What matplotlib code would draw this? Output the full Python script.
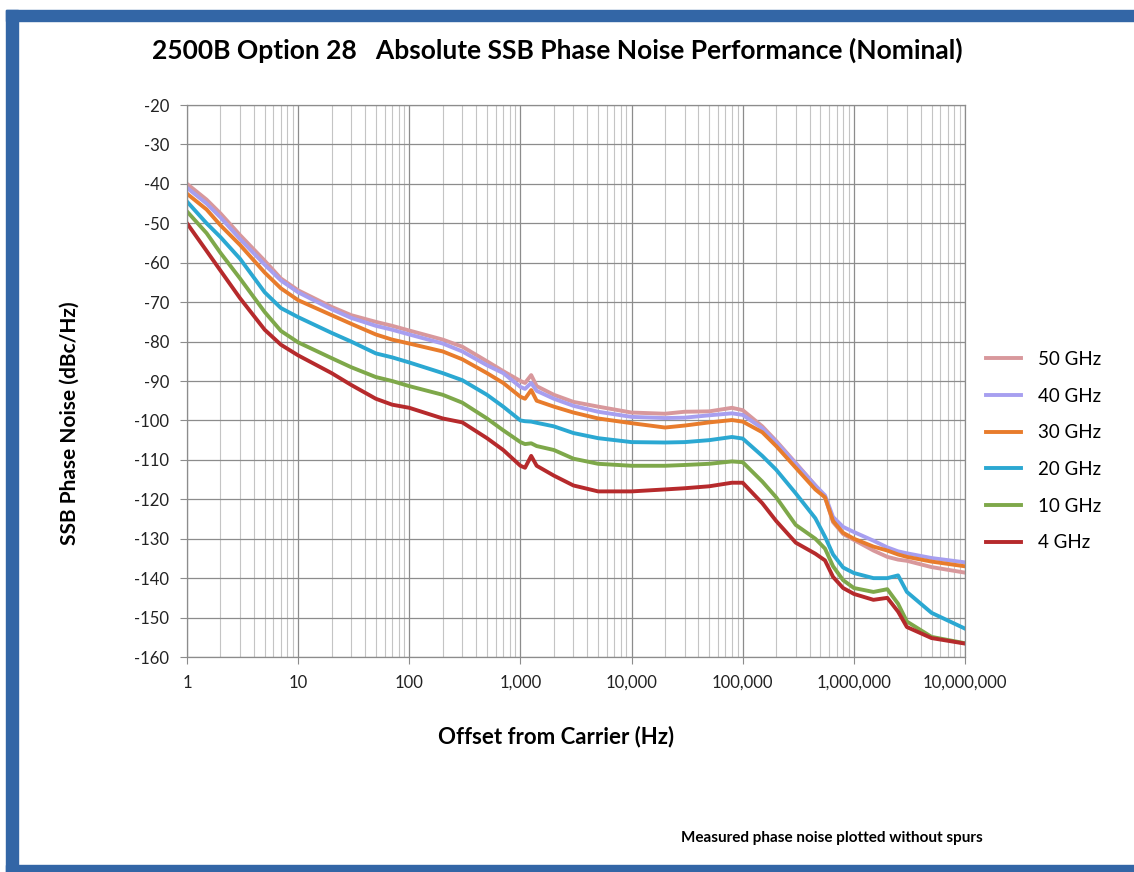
import numpy as np
import matplotlib
matplotlib.use("Agg")
import matplotlib.pyplot as plt
from matplotlib.patches import Rectangle
from matplotlib.ticker import FixedLocator, FuncFormatter, NullFormatter

plt.rcParams['font.family'] = ['Lato', 'DejaVu Sans']
plt.rcParams['axes.unicode_minus'] = False

# offset frequencies (Hz) where the curves were read
freq = [1, 1.5, 2, 3, 5, 7, 10, 20, 30, 50, 70, 100, 200, 300, 500, 700,
        1000, 1100, 1250, 1400, 2000, 3000, 5000, 10000, 20000, 30000, 50000,
        80000, 100000, 150000, 200000, 300000, 450000, 550000, 650000, 800000,
        1e6, 1.5e6, 2e6, 2.5e6, 3e6, 5e6, 1e7]

pn_50 = [-40, -44, -47.5, -53, -59.5, -64, -67, -71.2, -73.3, -75, -76, -77.2,
         -79.5, -81.3, -85, -87.5, -90, -90.5, -88.5, -91.3, -93.5, -95.3, -96.5,
         -98, -98.3, -97.8, -97.7, -96.8, -97.4, -101.5, -105.2, -110.8, -116.5,
         -119.5, -125.8, -128.8, -130.3, -133, -134.6, -135.3, -135.6, -137.2, -138.6]
pn_40 = [-41, -45, -48.5, -54, -60.5, -64.5, -67.5, -71.8, -74, -76, -77, -78.2,
         -80.5, -82.5, -86, -88, -91.5, -92, -90.5, -92.5, -94.5, -96.3, -97.8,
         -99.1, -99.4, -99.3, -98.7, -98.2, -98.6, -102, -105.5, -111, -116.5,
         -119, -124.5, -127, -128.3, -130.5, -132.2, -133.2, -133.7, -134.9, -136]
pn_30 = [-42.5, -46.5, -50.5, -55.5, -62.5, -66.5, -69.5, -73.3, -75.5, -78.2,
         -79.5, -80.5, -82.5, -84.5, -88, -90.5, -94, -94.5, -92.3, -95, -96.5,
         -98, -99.5, -100.7, -101.8, -101.3, -100.5, -99.9, -100.3, -103, -106.5,
         -112, -117.5, -119.5, -125.5, -128.5, -130, -132, -133, -134, -134.6,
         -135.8, -137]
pn_20 = [-44.5, -50, -53.5, -59, -67.5, -71.5, -73.8, -77.8, -80, -83, -84, -85.3,
         -88, -89.8, -93.5, -96.5, -100, -100.2, -100.3, -100.6, -101.5, -103.2,
         -104.5, -105.5, -105.6, -105.5, -105, -104.2, -104.6, -109, -112.5,
         -118.5, -124.8, -129.5, -134, -137.3, -138.7, -140, -140, -139.3, -143.5,
         -148.8, -152.8]
pn_10 = [-47, -52.5, -57.5, -64, -72.5, -77.3, -80.2, -84.2, -86.5, -89, -90,
         -91.3, -93.5, -95.5, -99.5, -102.5, -105.5, -106, -105.8, -106.5, -107.5,
         -109.7, -111, -111.5, -111.5, -111.3, -111, -110.4, -110.6, -115.5,
         -119.5, -126.5, -130, -132.5, -137, -140.5, -142.5, -143.5, -142.8,
         -146.5, -151, -154.9, -156.5]
pn_4 = [-50, -57, -62, -69, -77, -80.8, -83.5, -88, -91, -94.5, -96, -96.8, -99.5,
        -100.5, -104.5, -107.5, -111.5, -112, -109, -111.5, -114, -116.5, -118,
        -118, -117.5, -117.2, -116.7, -115.8, -115.8, -121, -125.5, -131, -133.8,
        -135.5, -139.7, -142.5, -144, -145.5, -145, -148.5, -152.4, -155.2, -156.6]

labels = ['50 GHz', '40 GHz', '30 GHz', '20 GHz', '10 GHz', '4 GHz']
series = [pn_50, pn_40, pn_30, pn_20, pn_10, pn_4]
colors = ['#d8989c', '#a79ff0', '#e87c2c', '#2ba8d2', '#7ea84a', '#b62a2c']

y_ticks = list(range(-160, -19, 10))
x_ticks = [1, 10, 100, 1000, 10000, 100000, 1000000, 10000000]

fig = plt.figure(figsize=(11.34, 8.72), dpi=100)

# blue frame round the picture
blue = '#3366a6'
fig.patches.append(Rectangle((6 / 1134, 0), 1, 7 / 872, transform=fig.transFigure, color=blue, zorder=0))
fig.patches.append(Rectangle((6 / 1134, 851 / 872), 1, 11 / 872, transform=fig.transFigure, color=blue, zorder=0))
fig.patches.append(Rectangle((6 / 1134, 0), 12 / 1134, 862 / 872, transform=fig.transFigure, color=blue, zorder=0))

ax = fig.add_axes([187 / 1134, 1 - 657 / 872, 778 / 1134, 552 / 872])

for vals, lab, col in zip(series, labels, colors):
    ax.plot(freq, vals, color=col, lw=2.8, label=lab, solid_joinstyle='round')

ax.set_xscale('log')
ax.set_xlim(1, 1e7)
ax.set_ylim(-160, -20)
ax.xaxis.set_major_locator(FixedLocator(x_ticks))
ax.xaxis.set_minor_locator(FixedLocator([m * d for d in x_ticks[:-1] for m in range(2, 10)]))
ax.xaxis.set_minor_formatter(NullFormatter())
ax.xaxis.set_major_formatter(FuncFormatter(lambda v, p: f"{int(round(v)):,}"))
ax.set_yticks(y_ticks)

ax.grid(which='major', color='#8c8c8c', lw=0.9)
ax.grid(which='minor', axis='x', color='#c4c4c4', lw=0.8)
ax.set_axisbelow(True)
for s in ax.spines.values():
    s.set_color('#8c8c8c')
    s.set_linewidth(0.9)
ax.tick_params(which='major', length=5, color='#8c8c8c', labelsize=12, labelcolor='#222222', pad=8)
ax.tick_params(which='minor', length=0)

fig.text(557 / 1134, 1 - 50 / 872,
         '2500B Option 28   Absolute SSB Phase Noise Performance (Nominal)',
         fontsize=19, fontweight='bold', ha='center', va='center')
ax.set_xlabel('Offset from Carrier (Hz)', fontsize=16, fontweight='bold')
ax.xaxis.set_label_coords(0.474, -(737 - 657) / 552)
ax.xaxis.label.set_va('center')
ax.set_ylabel('SSB Phase Noise (dBc/Hz)', fontsize=15, fontweight='bold')
ax.yaxis.set_label_coords(-(187 - 70) / 778, (657 - 423) / 552)
ax.yaxis.label.set_va('center')

ax.legend(loc='center left', bbox_to_anchor=(1.005, 0.373), frameon=False,
          fontsize=13.5, handlelength=1.9, labelspacing=1.05, handletextpad=0.9)

fig.text(681 / 1134, 1 - 838 / 872, 'Measured phase noise plotted without spurs',
         fontsize=11, fontweight='bold', va='center', ha='left')

fig.savefig('out.png', dpi=100)
